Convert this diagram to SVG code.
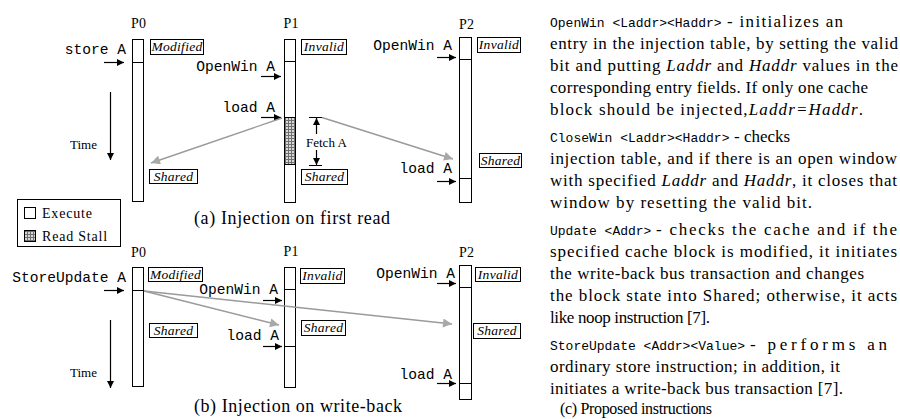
<svg xmlns="http://www.w3.org/2000/svg" width="900" height="419" viewBox="0 0 900 419">
<style>
.lbl{font-family:"Liberation Mono",monospace;font-size:14.6px;text-anchor:end;fill:#000}
.pl{font-family:"Liberation Serif",serif;font-size:14px;text-anchor:middle}
.st{font-family:"Liberation Serif",serif;font-style:italic;font-size:13.5px;letter-spacing:0.3px;text-anchor:middle}
.bar{fill:#fff;stroke:#000;stroke-width:1}
.box{fill:#fff;stroke:#000;stroke-width:1}
.div{stroke:#000;stroke-width:1}
.arr{stroke:#000;stroke-width:1.2;fill:none;marker-end:url(#ah)}
.garr{stroke:#9a9a9a;stroke-width:1.4;fill:none;marker-end:url(#gh)}
.tm{font-family:"Liberation Serif",serif;font-size:13px}
.cap{font-family:"Liberation Serif",serif;font-size:18px}
.mono{font-family:"Liberation Mono",monospace;font-size:13px}
.bt{font-family:"Liberation Serif",serif;font-size:17px}
.it{font-style:italic}
.lg{font-family:"Liberation Serif",serif;font-size:14px;letter-spacing:0.8px}
</style>
<defs>
<marker id="ah" viewBox="0 0 10 10" refX="10" refY="5" markerWidth="8" markerHeight="7" markerUnits="userSpaceOnUse" orient="auto"><path d="M0,0L10,5L0,10z" fill="#000"/></marker>
<marker id="gh" viewBox="0 0 10 10" refX="10" refY="5" markerWidth="13" markerHeight="9" markerUnits="userSpaceOnUse" orient="auto"><path d="M0,0L10,5L0,10z" fill="#a8a8a8"/></marker>
<pattern id="hatch" width="3" height="3" patternUnits="userSpaceOnUse"><rect width="3" height="3" fill="#d8d8d8"/><path d="M0,0.5H3M0.5,0V3" stroke="#707070" stroke-width="1"/></pattern>
</defs>

<g id="a-p0">
<text class="pl" x="138.5" y="28">P0</text>
<rect class="bar" x="132.5" y="39.5" width="11" height="162"/>
<line class="div" x1="132.5" y1="62.5" x2="143.5" y2="62.5"/>
<rect class="box" x="150.5" y="39.5" width="53" height="15"/>
<text class="st" x="177" y="51">Modified</text>
<rect class="box" x="149.5" y="169.5" width="48" height="14"/>
<text class="st" x="173.5" y="181">Shared</text>
<text class="lbl" x="126" y="54">store A</text>
</g>
<g id="a-p1">
<text class="pl" x="291" y="28">P1</text>
<rect class="bar" x="284.5" y="39.5" width="11" height="163"/>
<line class="div" x1="284.5" y1="61.5" x2="295.5" y2="61.5"/>
<rect x="284.5" y="117.5" width="11" height="47" fill="url(#hatch)" stroke="#000" stroke-width="1"/>
<rect class="box" x="301.5" y="39.5" width="45" height="15"/>
<text class="st" x="324" y="51">Invalid</text>
<rect class="box" x="301.5" y="169.5" width="46" height="15"/>
<text class="st" x="324.5" y="181">Shared</text>
<text class="lbl" x="275" y="71">OpenWin A</text>
<text class="lbl" x="275" y="112">load A</text>
<text class="tm" x="306" y="147">Fetch A</text>
</g>
<g id="a-p2">
<text class="pl" x="466.5" y="29">P2</text>
<rect class="bar" x="459.5" y="37.5" width="12" height="165"/>
<line class="div" x1="459.5" y1="59.5" x2="471.5" y2="59.5"/>
<line class="div" x1="459.5" y1="178.5" x2="471.5" y2="178.5"/>
<rect class="box" x="477.5" y="37.5" width="43" height="15"/>
<text class="st" x="499" y="49">Invalid</text>
<rect class="box" x="479.5" y="153.5" width="42" height="14"/>
<text class="st" x="500.5" y="165">Shared</text>
<text class="lbl" x="452" y="50">OpenWin A</text>
<text class="lbl" x="452" y="173">load A</text>
</g>
<g id="a-time">
<text class="tm" x="70" y="149">Time</text>
</g>
<g id="legend">
<rect class="box" x="17.5" y="199.5" width="103" height="47"/>
<rect class="box" x="24.5" y="207.5" width="11" height="11"/>
<text class="lg" x="42" y="218">Execute</text>
<rect x="24.5" y="230.5" width="11" height="11" fill="url(#hatch)" stroke="#000" stroke-width="1"/>
<text class="lg" x="42" y="241">Read Stall</text>
</g>
<text class="cap" x="194" y="224" textLength="196" lengthAdjust="spacing">(a) Injection on first read</text>

<g id="b-p0">
<text class="pl" x="138.5" y="257">P0</text>
<rect class="bar" x="132.5" y="267.5" width="11" height="119"/>
<line class="div" x1="132.5" y1="290.5" x2="143.5" y2="290.5"/>
<rect class="box" x="148.5" y="267.5" width="54" height="14"/>
<text class="st" x="175.5" y="279">Modified</text>
<rect class="box" x="149.5" y="323.5" width="48" height="14"/>
<text class="st" x="173.5" y="335">Shared</text>
<text class="lbl" x="126" y="282">StoreUpdate A</text>
</g>
<g id="b-p1">
<text class="pl" x="291" y="256">P1</text>
<rect class="bar" x="284.5" y="267.5" width="11" height="120"/>
<line class="div" x1="284.5" y1="289.5" x2="295.5" y2="289.5"/>
<line class="div" x1="284.5" y1="346.5" x2="295.5" y2="346.5"/>
<rect class="box" x="300.5" y="268.5" width="44" height="15"/>
<text class="st" x="322.5" y="280">Invalid</text>
<rect class="box" x="301.5" y="320.5" width="44" height="15"/>
<text class="st" x="323.5" y="332">Shared</text>
<text class="lbl" x="278" y="294">OpenWin A</text>
<text class="lbl" x="279" y="340">load A</text>
</g>
<g id="b-p2">
<text class="pl" x="466.5" y="257">P2</text>
<rect class="bar" x="459.5" y="265.5" width="12" height="134"/>
<line class="div" x1="459.5" y1="287.5" x2="471.5" y2="287.5"/>
<line class="div" x1="459.5" y1="383.5" x2="471.5" y2="383.5"/>
<rect class="box" x="475.5" y="267.5" width="45" height="14"/>
<text class="st" x="498" y="279">Invalid</text>
<rect class="box" x="473.5" y="323.5" width="47" height="15"/>
<text class="st" x="497" y="335">Shared</text>
<text class="lbl" x="455" y="278">OpenWin A</text>
<text class="lbl" x="452" y="379">load A</text>
</g>
<g id="b-time">
<text class="tm" x="70" y="377">Time</text>
</g>
<text class="cap" x="194" y="412" textLength="208" lengthAdjust="spacing">(b) Injection on write-back</text>

<g id="connectors">
<line class="arr" x1="104" y1="62.5" x2="124" y2="62.5"/>
<line class="arr" x1="261" y1="76.5" x2="281" y2="76.5"/>
<line class="arr" x1="261" y1="117.5" x2="281" y2="117.5"/>
<line class="arr" x1="437" y1="57.5" x2="456" y2="57.5"/>
<line class="arr" x1="437" y1="181.5" x2="456" y2="181.5"/>
<line class="arr" x1="110.5" y1="92" x2="110.5" y2="160"/>
<line class="div" x1="309" y1="117.5" x2="322" y2="117.5"/>
<line class="div" x1="309" y1="165.5" x2="322" y2="165.5"/>
<line class="arr" x1="316.5" y1="134" x2="316.5" y2="118"/>
<line class="arr" x1="316.5" y1="150" x2="316.5" y2="165"/>
<line class="garr" x1="282" y1="118" x2="151" y2="163"/>
<line class="garr" x1="322" y1="117.5" x2="453" y2="159"/>
<line class="arr" x1="104" y1="290.5" x2="124" y2="290.5"/>
<line class="arr" x1="263" y1="300.5" x2="282" y2="300.5"/>
<line class="arr" x1="263" y1="346.5" x2="282" y2="346.5"/>
<line class="arr" x1="437" y1="283.5" x2="456" y2="283.5"/>
<line class="arr" x1="437" y1="383.5" x2="456" y2="383.5"/>
<line class="arr" x1="110.5" y1="320" x2="110.5" y2="388"/>
<line class="garr" x1="144" y1="291" x2="279" y2="325"/>
<line class="garr" x1="144" y1="291" x2="452" y2="324"/>
</g>

<g id="c-text">
<text class="mono" x="550" y="27">OpenWin &lt;Laddr&gt;&lt;Haddr&gt;</text>
<text class="bt" x="727" y="27" textLength="116" lengthAdjust="spacing">- initializes an</text>
<text class="bt" x="550" y="49" textLength="348" lengthAdjust="spacing">entry in the injection table, by setting the valid</text>
<text class="bt" x="550" y="71" textLength="348" lengthAdjust="spacing">bit and putting <tspan class="it">Laddr</tspan> and <tspan class="it">Haddr</tspan> values in the</text>
<text class="bt" x="550" y="93" textLength="318" lengthAdjust="spacing">corresponding entry fields. If only one cache</text>
<text class="bt" x="550" y="115" textLength="313" lengthAdjust="spacing">block should be injected,<tspan class="it">Laddr=Haddr</tspan>.</text>
<text class="mono" x="550" y="142">CloseWin &lt;Laddr&gt;&lt;Haddr&gt;</text>
<text class="bt" x="734" y="142">- checks</text>
<text class="bt" x="550" y="164" textLength="347" lengthAdjust="spacing">injection table, and if there is an open window</text>
<text class="bt" x="550" y="186" textLength="347" lengthAdjust="spacing">with specified <tspan class="it">Laddr</tspan> and <tspan class="it">Haddr</tspan>, it closes that</text>
<text class="bt" x="550" y="208" textLength="262" lengthAdjust="spacing">window by resetting the valid bit.</text>
<text class="mono" x="550" y="235">Update &lt;Addr&gt;</text>
<text class="bt" x="656" y="235" textLength="241" lengthAdjust="spacing">- checks the cache and if the</text>
<text class="bt" x="550" y="257" textLength="347" lengthAdjust="spacing">specified cache block is modified, it initiates</text>
<text class="bt" x="550" y="279" textLength="314" lengthAdjust="spacing">the write-back bus transaction and changes</text>
<text class="bt" x="550" y="301" textLength="347" lengthAdjust="spacing">the block state into Shared; otherwise, it acts</text>
<text class="bt" x="550" y="323" textLength="160" lengthAdjust="spacing">like noop instruction [7].</text>
<text class="mono" x="550" y="350">StoreUpdate &lt;Addr&gt;&lt;Value&gt;</text>
<text class="bt" x="750" y="350" textLength="137" lengthAdjust="spacing">- performs an</text>
<text class="bt" x="550" y="372" textLength="290" lengthAdjust="spacing">ordinary store instruction; in addition, it</text>
<text class="bt" x="550" y="394" textLength="293" lengthAdjust="spacing">initiates a write-back bus transaction [7].</text>
<text class="bt" x="560" y="414" textLength="152" lengthAdjust="spacing" style="font-size:16px">(c) Proposed instructions</text>
</g>
</svg>
